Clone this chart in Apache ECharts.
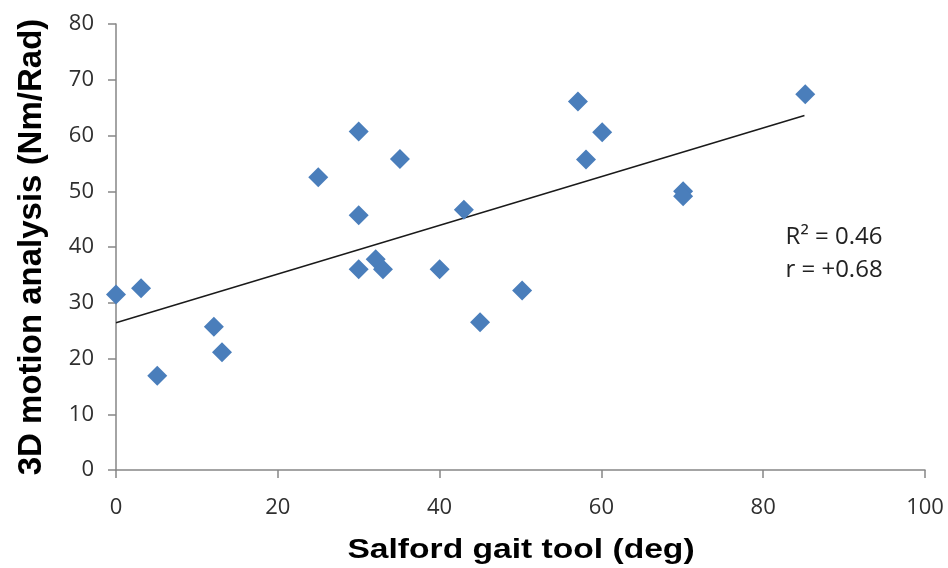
<!DOCTYPE html>
<html><head><meta charset="utf-8">
<script src="https://cdn.jsdelivr.net/npm/echarts@6/dist/echarts.min.js"></script>
<style>html,body{margin:0;padding:0;background:#fff}#c{width:948px;height:568px}</style>
</head><body><div id="c"></div>
<script>
// Salford gait tool (deg)
const xValues = [0, 3.1, 5.1, 12.1, 13.1, 25.0, 30.0, 30.0, 30.0, 32.1, 33.0, 35.1, 40.0, 43.0, 45.0, 50.2, 57.1, 58.1, 60.1, 70.1, 70.1, 85.2];
// 3D motion analysis (Nm/Rad)
const yValues = [31.5, 32.6, 16.9, 25.7, 21.1, 52.5, 60.7, 45.7, 36.0, 37.8, 36.0, 55.8, 36.0, 46.7, 26.5, 32.2, 66.1, 55.7, 60.6, 50.0, 49.1, 67.4];
// linear trend line endpoints
const trendX = [0, 85.1];
const trendY = [26.4, 63.6];
const xTicks = [0, 20, 40, 60, 80, 100];
const yTicks = [0, 10, 20, 30, 40, 50, 60, 70, 80];
const xTitle = 'Salford gait tool (deg)';
const yTitle = '3D motion analysis (Nm/Rad)';
const statLines = ['R\u00B2 = 0.46', 'r = +0.68'];

const chart = echarts.init(document.getElementById('c'));
const pts = xValues.map((x, i) => [x, yValues[i]]);
const trend = trendX.map((x, i) => [x, trendY[i]]);
const axisCol = '#868686';
const labelFont = {color: '#2f2f2f', fontSize: 22, fontFamily: 'Open Sans'};
chart.setOption({
  animation: false,
  grid: {left: 116, right: 23, top: 24, bottom: 98},
  xAxis: {
    type: 'value', min: xTicks[0], max: xTicks[xTicks.length - 1], interval: 20,
    axisLine: {lineStyle: {color: axisCol, width: 1.5}},
    axisTick: {lineStyle: {color: axisCol, width: 1.5}, length: 8},
    splitLine: {show: false},
    axisLabel: Object.assign({margin: 27}, labelFont)
  },
  yAxis: {
    type: 'value', min: yTicks[0], max: yTicks[yTicks.length - 1], interval: 10,
    name: yTitle, nameLocation: 'middle', nameGap: 68,
    nameTextStyle: {fontSize: 33, fontWeight: 'bold', fontFamily: 'Liberation Sans', color: '#000'},
    axisLine: {show: true, lineStyle: {color: axisCol, width: 1.5}},
    axisTick: {show: true, lineStyle: {color: axisCol, width: 1.5}, length: 8},
    splitLine: {show: false},
    axisLabel: Object.assign({margin: 22}, labelFont)
  },
  series: [
    {
      type: 'line', data: trend, symbol: 'none', silent: true,
      lineStyle: {color: '#1a1a1a', width: 1.5}, z: 1
    },
    {
      type: 'scatter', data: pts, symbol: 'diamond', symbolSize: [20, 20],
      itemStyle: {color: '#4a7ebb', opacity: 1}, z: 2
    }
  ],
  graphic: [
    {type: 'text', x: 521, y: 550, scaleX: 1.2, style: {text: xTitle, fontSize: 28, fontWeight: 'bold', fontFamily: 'Liberation Sans', fill: '#000', align: 'center', verticalAlign: 'middle'}},
    {type: 'text', x: 834, y: 237, style: {text: statLines[0], fontSize: 24, fontFamily: 'Open Sans', fill: '#222', align: 'center', verticalAlign: 'middle'}},
    {type: 'text', x: 834, y: 270, style: {text: statLines[1], fontSize: 24, fontFamily: 'Open Sans', fill: '#222', align: 'center', verticalAlign: 'middle'}}
  ]
});
</script>
</body></html>
